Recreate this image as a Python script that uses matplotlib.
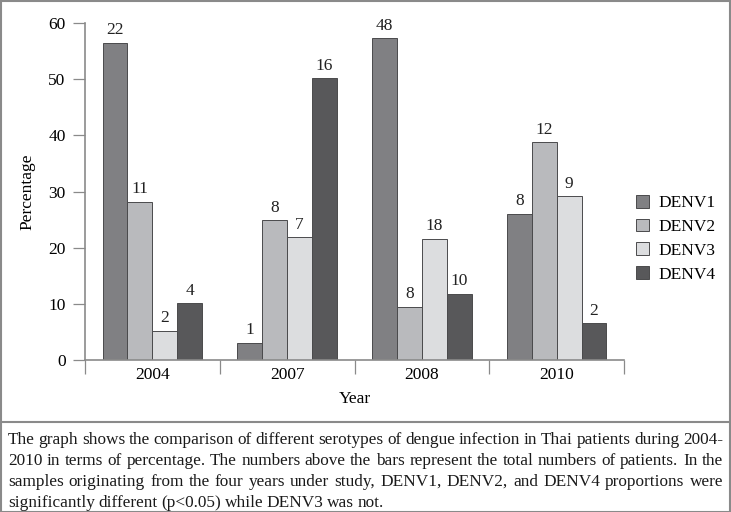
import matplotlib.pyplot as plt
import numpy as np
from matplotlib.patches import Rectangle
from matplotlib.lines import Line2D

years = ['2004', '2007', '2008', '2010']
serotypes = ['DENV1', 'DENV2', 'DENV3', 'DENV4']
denv1 = [56.5, 3.1, 57.3, 26.0]
denv2 = [28.2, 24.9, 9.5, 38.8]
denv3 = [5.2, 21.9, 21.6, 29.2]
denv4 = [10.1, 50.2, 11.8, 6.5]
n1 = [22, 1, 48, 8]
n2 = [11, 8, 8, 12]
n3 = [2, 7, 18, 9]
n4 = [4, 16, 10, 2]
colors = ['#808083', '#b9babd', '#dcdddf', '#58585a']

caption_lines = [
    "The graph shows the comparison of different serotypes of dengue infection in Thai patients during 2004-",
    "2010 in terms of percentage. The numbers above the bars represent the total numbers of patients. In the",
    "samples originating from the four years under study, DENV1, DENV2, and DENV4 proportions were",
    "significantly different (p<0.05) while DENV3 was not.",
]

plt.rcParams['font.family'] = ['Liberation Serif', 'DejaVu Serif']
W, H = 731, 512
fig = plt.figure(figsize=(W / 100, H / 100), dpi=100)
ax = fig.add_axes([85 / W, 1 - 360 / H, (624 - 85) / W, (360 - 23) / H])

fs = 12.5
x = np.arange(len(years))
w = 0.185
values = [denv1, denv2, denv3, denv4]
counts = [n1, n2, n3, n4]
for i, (vals, cnt) in enumerate(zip(values, counts)):
    pos = x + (i - 1.5) * w
    bars = ax.bar(pos, vals, w, color=colors[i], edgecolor='#4a4a4c', linewidth=0.7,
                  label=serotypes[i], zorder=2)
    for b, c in zip(bars, cnt):
        ax.text(b.get_x() + b.get_width() / 2, b.get_height() + 0.8, str(c),
                ha='center', va='bottom', fontsize=fs, color='#222222')

ax.set_xlim(-0.5, 3.5)
ax.set_ylim(0, 60)
ax.set_yticks(range(0, 61, 10))
ax.set_xticks(x)
ax.set_xticklabels(years)
ax.set_xticks(np.arange(-0.5, 3.6, 1), minor=True)
ax.tick_params(axis='x', which='major', length=0, pad=5, labelsize=fs)
ax.tick_params(axis='x', which='minor', length=10, width=0.9, color='#8a8a8a', direction='out')
ax.tick_params(axis='y', length=9, width=0.9, color='#8a8a8a', labelsize=fs, pad=5)
for s in ['top', 'right']:
    ax.spines[s].set_visible(False)
for s in ['left', 'bottom']:
    ax.spines[s].set_color('#8a8a8a')
    ax.spines[s].set_linewidth(1.2)

ax.set_ylabel('Percentage', fontsize=fs, labelpad=9)
ax.set_xlabel('Year', fontsize=fs, labelpad=6)

ax.legend(loc='upper left', bbox_to_anchor=(636 / W, 1 - 195 / H), bbox_transform=fig.transFigure,
          frameon=False, fontsize=fs, handlelength=0.75, handleheight=0.75,
          handletextpad=0.55, labelspacing=0.42, borderaxespad=0, borderpad=0)

# outer frame and separator line
fig.patches.append(Rectangle((0.5 / W, 0.5 / H), 1 - 1.5 / W, 1 - 1.5 / H, transform=fig.transFigure,
                             fill=False, edgecolor='#8a8a8a', linewidth=1.5))
fig.lines.append(Line2D([0, 1], [1 - 422 / H, 1 - 422 / H], transform=fig.transFigure,
                        color='#8a8a8a', linewidth=1.5))

# justified caption
renderer = fig.canvas.get_renderer()
left, right = 8, 723
line_y = [444, 465, 486, 507]
cap_size = 12.4
for k, line in enumerate(caption_lines):
    words = line.split(' ')
    texts = [fig.text(0, 1 - line_y[k] / H, wd, fontsize=cap_size, va='baseline', ha='left',
                      color='#1a1a1a') for wd in words]
    widths = [t.get_window_extent(renderer).width for t in texts]
    if k < len(caption_lines) - 1:
        gap = max((right - left - sum(widths)) / (len(words) - 1), 2.0)
    else:
        gap = 3.6
    xp = left
    for t, wd in zip(texts, widths):
        t.set_x(xp / W)
        xp += wd + gap

fig.savefig('out.png', dpi=100)
